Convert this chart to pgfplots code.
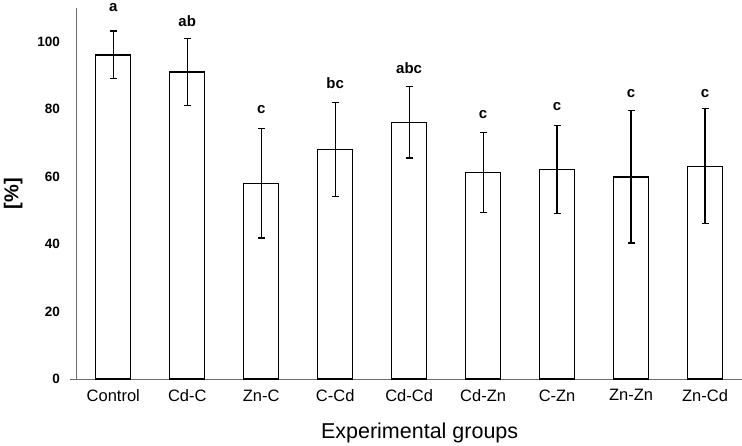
\documentclass[border=0pt]{standalone}
\usepackage{pgfplots}
\pgfplotsset{compat=1.18}
\usepackage{fontspec}
\setmainfont{Liberation Sans}
\begin{document}
\begin{tikzpicture}
\begin{axis}[
  width=665.7bp, height=371bp, scale only axis,
  xmin=-0.5, xmax=8.5, ymin=0, ymax=110,
  axis lines*=left,
  axis line style={draw=gray!85!black, line width=1bp},
  xtick={0,...,8},
  xticklabels={Control,Cd-C,Zn-C,C-Cd,Cd-Cd,Cd-Zn,C-Zn,Zn-Zn,Zn-Cd},
  ytick={0,20,40,60,80,100},
  xtick style={draw=none}, ytick style={draw=none},
  /pgf/number format/assume math mode=true,
  yticklabel style={font=\fontsize{13.5bp}{15bp}\selectfont\bfseries, anchor=east, xshift=-13bp},
  xticklabel style={font=\fontsize{16.5bp}{18bp}\selectfont, yshift=-7bp},
  clip=false,
]
\addplot[ybar, bar width=35bp, fill=white, draw=black, line width=1.3bp,
  error bars/.cd, y dir=both, y explicit,
  error bar style={line width=1.2bp, black},
  error mark options={rotate=90, mark size=3.5bp, line width=1.2bp, black}]
  coordinates {
  (0,96.1) +- (0,7.1)
  (1,91.0) +- (0,10.0)
  (2,58.0) +- (0,16.2)
  (3,68.0) +- (0,14.0)
  (4,76.1) +- (0,10.6)
  (5,61.2) +- (0,11.9)
  (6,62.1) +- (0,13.1)
  (7,59.9) +- (0,19.6)
  (8,63.1) +- (0,17.0)
  };
\addplot[only marks, mark=none, nodes near coords, point meta=explicit symbolic,
  every node near coord/.style={anchor=center, inner sep=0pt, font=\fontsize{15bp}{17bp}\selectfont\bfseries}]
  coordinates {
  (0,110.0) [a]
  (1,106.2) [ab]
  (2,79.8) [c]
  (3,87.7) [bc]
  (4,92.2) [abc]
  (5,78.5) [c]
  (6,80.9) [c]
  (7,84.5) [c]
  (8,84.5) [c]
  };
\coordinate (SW) at (rel axis cs:0,0);
\coordinate (NE) at (rel axis cs:1,1);
\coordinate (ML) at (rel axis cs:0,0.5);
\coordinate (BM) at (rel axis cs:0.5,0);
\end{axis}
\draw[gray!85!black, line width=1bp] ([xshift=-6bp]SW) -- (SW);
\node[rotate=90, font=\fontsize{20bp}{22bp}\selectfont\bfseries] at ([xshift=-63bp]ML) {[\%]};
\node[font=\fontsize{21.5bp}{23bp}\selectfont] at ([xshift=10.5bp,yshift=-54bp]BM) {Experimental groups};
\pgfresetboundingbox
\path[use as bounding box] ([xshift=-76.3bp,yshift=-66bp]SW) rectangle ([yshift=8bp]NE);
\end{tikzpicture}
\end{document}
